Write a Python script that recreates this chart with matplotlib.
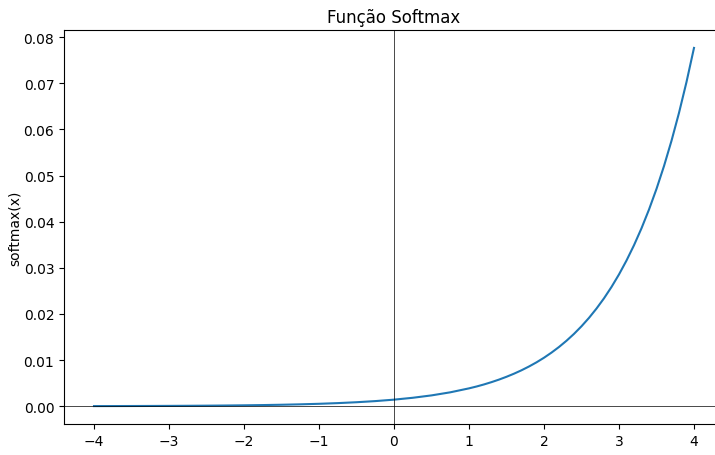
import numpy as np
import matplotlib
matplotlib.use('Agg')
import matplotlib.pyplot as plt

# pontos x de -4 a 4 e valores de softmax correspondentes
# (passo 0.25 ate x=1, depois passo 0.1 onde a curva sobe rapido)
x = [-4.0, -3.75, -3.5, -3.25, -3.0, -2.75, -2.5, -2.25, -2.0, -1.75, -1.5,
     -1.25, -1.0, -0.75, -0.5, -0.25, 0.0, 0.25, 0.5, 0.75,
     1.0, 1.1, 1.2, 1.3, 1.4, 1.5, 1.6, 1.7, 1.8, 1.9,
     2.0, 2.1, 2.2, 2.3, 2.4, 2.5, 2.6, 2.7, 2.8, 2.9,
     3.0, 3.1, 3.2, 3.3, 3.4, 3.5, 3.6, 3.7, 3.8, 3.9, 4.0]
softmax_y = [0.0000261, 0.0000335, 0.0000430, 0.0000552, 0.0000708,
             0.0000909, 0.0001168, 0.0001499, 0.0001925, 0.0002472,
             0.0003174, 0.0004075, 0.0005233, 0.000672, 0.000863,
             0.001108, 0.001422, 0.001827, 0.002345, 0.003011,
             0.00387, 0.00427, 0.00472, 0.00522, 0.00577,
             0.00638, 0.00705, 0.00779, 0.00861, 0.00951,
             0.01051, 0.01162, 0.01284, 0.01419, 0.01568,
             0.01733, 0.01915, 0.02117, 0.02339, 0.02585,
             0.02857, 0.03158, 0.03490, 0.03857, 0.04263,
             0.04711, 0.05206, 0.05754, 0.06359, 0.07028, 0.07767]

fig = plt.figure(figsize=(7.15, 4.56), dpi=100)
ax = fig.add_axes([64 / 715, 1 - 425 / 456, 660 / 715, 394 / 456])

ax.plot(x, softmax_y)
ax.axhline(0, color='black', linewidth=0.5)
ax.axvline(0, color='black', linewidth=0.5)
ax.set_title('Função Softmax')
ax.set_xlabel('x')
ax.set_ylabel('softmax(x)', labelpad=1)

plt.savefig('out.png', dpi=100)
plt.close()
